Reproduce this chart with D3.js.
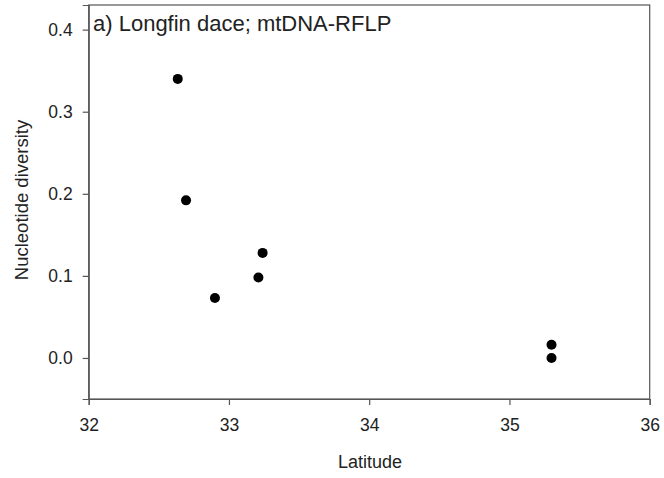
<!DOCTYPE html>
<html>
<head>
<meta charset="utf-8">
<script src="https://cdn.jsdelivr.net/npm/d3@7"></script>
<style>
  body { margin: 0; background: #fff; }
  text { font-family: "Liberation Sans", Arial, sans-serif; fill: #222; }
</style>
</head>
<body>
<svg id="chart" width="664" height="478"></svg>
<script>
// data
const latitude = [32.635, 32.694, 33.24, 33.21, 32.90, 35.30, 35.30];
const diversity = [0.340, 0.192, 0.128, 0.098, 0.073, 0.016, 0.0];
const xTicks = [32, 33, 34, 35, 36];
const yTicks = [0.0, 0.1, 0.2, 0.3, 0.4];

const svg = d3.select("#chart");
const plotLeft = 88.7, plotRight = 649.7, plotTop = 5, plotBottom = 399;

const x = d3.scaleLinear().domain([32, 36]).range([plotLeft, plotRight]);
const y = d3.scaleLinear().domain([-0.05, 0.43]).range([plotBottom, plotTop]);

// frame
svg.append("rect")
    .attr("x", plotLeft).attr("y", plotTop)
    .attr("width", plotRight - plotLeft).attr("height", plotBottom - plotTop)
    .attr("fill", "none").attr("stroke", "#555").attr("stroke-width", 1.2);

const xAxis = svg.append("g")
    .attr("transform", `translate(0,${plotBottom})`)
    .call(d3.axisBottom(x).tickValues(xTicks).tickFormat(d3.format("d")).tickSize(6).tickPadding(13.5));

const yAxis = svg.append("g")
    .attr("transform", `translate(${plotLeft},0)`)
    .call(d3.axisLeft(y).tickValues(yTicks).tickFormat(d3.format(".1f")).tickSize(6).tickPadding(10));

[xAxis, yAxis].forEach(g => {
    g.select(".domain").attr("stroke", "#555").attr("stroke-width", 1.2);
    g.selectAll(".tick line").attr("stroke", "#555").attr("stroke-width", 1.2);
    g.selectAll(".tick text").attr("font-size", 17.5).attr("fill", "#222")
        .style("font-family", "'Liberation Sans', Arial, sans-serif");
});

// points
svg.append("g").selectAll("circle")
    .data(latitude.map((d, i) => [d, diversity[i]]))
    .join("circle")
    .attr("cx", d => x(d[0]))
    .attr("cy", d => y(d[1]))
    .attr("r", 5)
    .attr("fill", "#000");

// labels
svg.append("text")
    .attr("x", 93).attr("y", 31)
    .attr("font-size", 22)
    .text("a) Longfin dace; mtDNA-RFLP");

svg.append("text")
    .attr("x", 370).attr("y", 468)
    .attr("text-anchor", "middle")
    .attr("font-size", 18)
    .text("Latitude");

svg.append("text")
    .attr("transform", "translate(28,200) rotate(-90)")
    .attr("text-anchor", "middle")
    .attr("font-size", 18.5)
    .text("Nucleotide diversity");
</script>
</body>
</html>
